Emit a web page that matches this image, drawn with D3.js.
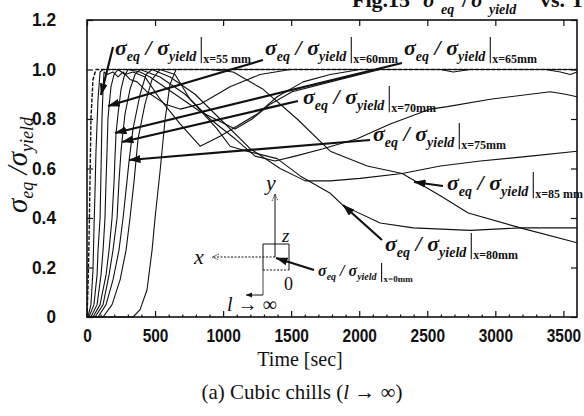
<!DOCTYPE html>
<html>
<head>
<meta charset="utf-8">
<script src="https://cdn.jsdelivr.net/npm/d3@7"></script>
<style>
  html, body { margin: 0; padding: 0; background: #fff; }
  svg { display: block; }
</style>
</head>
<body>
<svg id="chart" width="584" height="416"></svg>
<script>
// ---- axis ticks ----
const xTicks = [0, 500, 1000, 1500, 2000, 2500, 3000, 3500];
const xTickLabels = ["0", "500", "1000", "1500", "2000", "2500", "3000", "3500"];
const yTicks = [0, 0.2, 0.4, 0.6, 0.8, 1.0, 1.2];
const yTickLabels = ["0", "0.2", "0.4", "0.6", "0.8", "1.0", "1.2"];

// ---- σeq/σyield histories at several distances x from the chill ----
const t_x0  = [0, 7, 15, 22, 29, 44, 66, 3600];
const v_x0  = [0, 0.11, 0.31, 0.55, 0.80, 0.96, 1.00, 1.00];

const t_x50 = [0, 7, 29, 44, 51, 59, 66, 81, 96, 118, 2596, 2691, 2816, 3368, 3478, 3551, 3600];
const v_x50 = [0, 0, 0.05, 0.19, 0.35, 0.51, 0.67, 0.88, 0.99, 1.00, 1.00, 0.99, 1.00, 1.00, 0.99, 0.98, 0.99];

const t_x55 = [0, 15, 51, 74, 81, 96, 103, 110, 118, 125, 147, 191, 228, 265, 316, 368, 441, 574, 684, 831, 1051, 1272, 1493, 3600];
const v_x55 = [0, 0, 0.05, 0.17, 0.27, 0.40, 0.59, 0.80, 0.92, 0.99, 0.98, 0.99, 0.97, 0.99, 0.96, 0.95, 0.91, 0.86, 0.84, 0.86, 0.93, 0.98, 1.00, 1.00];

const t_x60 = [0, 29, 74, 103, 118, 132, 140, 147, 154, 162, 176, 199, 228, 279, 338, 426, 537, 684, 831, 978, 1250, 1397, 1588, 1787, 2007, 3600];
const v_x60 = [0, 0, 0.05, 0.17, 0.27, 0.40, 0.55, 0.67, 0.80, 0.85, 0.93, 0.98, 1.00, 0.98, 0.99, 0.97, 0.88, 0.78, 0.69, 0.73, 0.82, 0.89, 0.95, 0.98, 1.00, 1.00];

const t_x65 = [0, 44, 96, 140, 162, 184, 199, 206, 213, 228, 250, 272, 301, 390, 463, 647, 831, 978, 1088, 1213, 1346, 1507, 1860, 2154, 3600];
const v_x65 = [0, 0, 0.05, 0.17, 0.27, 0.40, 0.55, 0.65, 0.74, 0.82, 0.92, 0.97, 1.00, 0.99, 0.97, 0.90, 0.83, 0.79, 0.76, 0.80, 0.86, 0.91, 0.96, 1.00, 1.00];

const t_x70 = [0, 59, 118, 162, 191, 221, 235, 250, 257, 279, 316, 353, 390, 537, 721, 904, 1088, 1235, 1382, 1529, 1735, 1985, 2228, 2522, 2647, 2963, 3404, 3515, 3600];
const v_x70 = [0, 0, 0.05, 0.17, 0.27, 0.40, 0.55, 0.67, 0.71, 0.82, 0.92, 0.98, 1.00, 0.97, 0.90, 0.80, 0.72, 0.65, 0.63, 0.65, 0.68, 0.72, 0.78, 0.84, 0.85, 0.88, 0.91, 0.90, 0.89];

const t_x75 = [0, 81, 140, 191, 235, 265, 294, 309, 338, 390, 434, 478, 610, 794, 978, 1199, 1419, 1603, 1787, 2007, 2316, 2596, 2890, 3257, 3600];
const v_x75 = [0, 0, 0.05, 0.15, 0.27, 0.40, 0.55, 0.63, 0.76, 0.90, 0.98, 1.00, 0.97, 0.90, 0.80, 0.68, 0.60, 0.55, 0.55, 0.56, 0.58, 0.61, 0.63, 0.65, 0.67];

const t_x80 = [0, 118, 184, 243, 287, 316, 346, 375, 426, 478, 537, 647, 757, 956, 1051, 1176, 1397, 1566, 1787, 1882, 2154, 2397, 2816, 3184, 3600];
const v_x80 = [0, 0, 0.05, 0.15, 0.27, 0.40, 0.55, 0.72, 0.86, 0.96, 1.00, 0.98, 0.88, 0.76, 0.69, 0.67, 0.64, 0.57, 0.50, 0.45, 0.38, 0.36, 0.35, 0.36, 0.36];

const t_x85 = [0, 338, 390, 441, 478, 500, 537, 574, 610, 654, 757, 904, 1074, 1294, 1544, 1787, 2059, 2316, 2596, 2801, 3184, 3600];
const v_x85 = [0, 0, 0.03, 0.11, 0.27, 0.40, 0.59, 0.80, 0.94, 1.00, 1.00, 1.00, 0.99, 0.92, 0.80, 0.67, 0.61, 0.58, 0.49, 0.42, 0.36, 0.30];

const seriesNames = ["x=0 mm", "x=50 mm", "x=55 mm", "x=60 mm", "x=65 mm", "x=70 mm", "x=75 mm", "x=80 mm", "x=85 mm"];
const seriesTimes  = [t_x0, t_x50, t_x55, t_x60, t_x65, t_x70, t_x75, t_x80, t_x85];
const seriesValues = [v_x0, v_x50, v_x55, v_x60, v_x65, v_x70, v_x75, v_x80, v_x85];

// ---- layout ----
const plot = { left: 87, right: 577, top: 20, bottom: 317 };
const serif = "'Liberation Serif','Times New Roman',serif";
const sans = "'Liberation Sans',Arial,sans-serif";
const ink = "#111";

const svg = d3.select("#chart");
const x = d3.scaleLinear().domain([0, 3600]).range([plot.left, plot.right]);
const y = d3.scaleLinear().domain([0, 1.2]).range([plot.bottom, plot.top]);

// ---- arrowhead marker ----
svg.append("defs").append("marker")
  .attr("id", "head").attr("markerUnits", "userSpaceOnUse")
  .attr("viewBox", "0 0 12 8").attr("refX", 11.5).attr("refY", 4)
  .attr("markerWidth", 12).attr("markerHeight", 8).attr("orient", "auto")
  .append("path").attr("d", "M0,0 L12,4 L0,8 Z").attr("fill", ink);

// ---- curves ----
const line = d3.line().x(d => x(d[0])).y(d => y(d[1]));
const curves = svg.append("g").attr("fill", "none").attr("stroke", ink);
seriesNames.forEach((name, i) => {
  const pts = seriesTimes[i].map((t, k) => [t, seriesValues[i][k]]);
  curves.append("path")
    .datum(pts)
    .attr("d", line)
    .attr("stroke-width", i === 0 ? 1.4 : 1.1)
    .attr("stroke-dasharray", i === 0 ? "4,1.5" : null)
    .attr("stroke-linejoin", "round");
});

// ---- frame and axes (ticks point inward) ----
svg.append("rect")
  .attr("x", plot.left).attr("y", plot.top)
  .attr("width", plot.right - plot.left).attr("height", plot.bottom - plot.top)
  .attr("fill", "none").attr("stroke", ink).attr("stroke-width", 1.6);

function styleAxis(g) {
  g.select(".domain").remove();
  g.selectAll(".tick line").attr("stroke", ink).attr("stroke-width", 1.2);
}
// narrow, bold tick numerals: squeeze each label to a fixed width per character
function narrowText(g, perChar) {
  g.selectAll("text")
    .attr("font-family", sans).attr("font-weight", "bold")
    .attr("font-size", 18).attr("fill", ink)
    .attr("lengthAdjust", "spacingAndGlyphs")
    .attr("textLength", function () {
      const s = this.textContent;
      return s.replace(".", "").length * perChar + (s.includes(".") ? 5 : 0);
    });
}

const xMinor = d3.range(100, 3600, 100).filter(v => v % 500 !== 0);

svg.append("g").attr("transform", `translate(0,${plot.bottom})`)
  .call(d3.axisBottom(x).tickValues(xTicks).tickSize(-6).tickPadding(12)
    .tickFormat((d, i) => xTickLabels[i]))
  .call(styleAxis)
  .call(g => narrowText(g, 8.6));

svg.append("g").attr("transform", `translate(0,${plot.bottom})`)
  .call(d3.axisBottom(x).tickValues(xMinor).tickSize(-2.5).tickFormat(""))
  .call(styleAxis);

svg.append("g").attr("transform", `translate(0,${plot.top})`)
  .call(d3.axisTop(x).tickValues(xTicks).tickSize(-6).tickFormat(""))
  .call(styleAxis);

svg.append("g").attr("transform", `translate(${plot.left},0)`)
  .call(d3.axisLeft(y).tickValues(yTicks).tickSize(-6).tickPadding(31)
    .tickFormat((d, i) => yTickLabels[i]))
  .call(styleAxis)
  .call(g => narrowText(g, 9.5));

svg.append("g").attr("transform", `translate(${plot.right},0)`)
  .call(d3.axisRight(y).tickValues(yTicks).tickSize(-6).tickFormat(""))
  .call(styleAxis);

// ---- axis titles and caption ----
const yTitle = svg.append("text")
  .attr("transform", "translate(27,165) rotate(-90)")
  .attr("text-anchor", "middle")
  .attr("font-family", serif).attr("font-style", "italic")
  .attr("font-size", 29).attr("fill", ink);
yTitle.append("tspan").text("σ");
yTitle.append("tspan").attr("font-size", 18).attr("dy", 6).text("eq");
yTitle.append("tspan").attr("dy", -6).text(" /σ");
yTitle.append("tspan").attr("font-size", 18).attr("dy", 6).text("yield");

svg.append("text")
  .attr("x", 300).attr("y", 366).attr("text-anchor", "middle")
  .attr("font-family", serif).attr("font-size", 20).attr("fill", ink)
  .text("Time [sec]");

const cap = svg.append("text")
  .attr("x", 302).attr("y", 399).attr("text-anchor", "middle")
  .attr("font-family", serif).attr("font-size", 21).attr("fill", ink);
cap.append("tspan").text("(a) Cubic chills (");
cap.append("tspan").attr("font-style", "italic").text("l");
cap.append("tspan").text(" → ∞)");

// figure heading, running off the top edge of the page
const headParts = [
  { s: "Fig.15", x: 352, dy: 0, size: 22, it: false },
  { s: "σ", x: 423, dy: 0, size: 22, it: true },
  { s: "eq", x: 441, dy: 7, size: 14, it: true },
  { s: "/", x: 462, dy: 0, size: 22, it: false },
  { s: "σ", x: 471, dy: 0, size: 22, it: true },
  { s: "yield", x: 489, dy: 7, size: 14, it: true },
  { s: "vs. T", x: 540, dy: 0, size: 22, it: false }
];
svg.append("g").selectAll("text").data(headParts).join("text")
  .attr("x", d => d.x).attr("y", d => 7 + d.dy)
  .attr("font-family", serif).attr("font-weight", "bold")
  .attr("font-size", d => d.size).attr("font-style", d => d.it ? "italic" : "normal")
  .attr("fill", ink).text(d => d.s);

// ---- curve labels ----
const labels = svg.append("g");
function sigmaLabel(x0, y0, sub, big, small, tiny) {
  const t = labels.append("text")
    .attr("x", x0).attr("y", y0)
    .attr("font-family", serif).attr("font-weight", "bold").attr("font-style", "italic")
    .attr("font-size", big).attr("fill", ink);
  const d = big * 0.28;
  t.append("tspan").text("σ");
  t.append("tspan").attr("font-size", small).attr("dy", d).text("eq");
  t.append("tspan").attr("dy", -d).text(" / σ");
  t.append("tspan").attr("font-size", small).attr("dy", d).text("yield");
  const w = t.node().getComputedTextLength();
  const bx = x0 + w + 5;
  labels.append("line")
    .attr("x1", bx).attr("x2", bx)
    .attr("y1", y0 - big * 0.82).attr("y2", y0 + big * 0.38)
    .attr("stroke", ink).attr("stroke-width", 1.1);
  labels.append("text")
    .attr("x", bx + 2).attr("y", y0 + big * 0.38)
    .attr("font-family", serif).attr("font-weight", "bold")
    .attr("font-size", tiny).attr("fill", ink)
    .text(sub);
}
sigmaLabel(115, 55, "x=55 mm", 22, 14, 12);
sigmaLabel(265, 55, "x=60mm", 22, 14, 12);
sigmaLabel(404, 55, "x=65mm", 22, 14, 12);
sigmaLabel(303, 104, "x=70mm", 22, 14, 12);
sigmaLabel(373, 141, "x=75mm", 22, 14, 12);
sigmaLabel(447, 190, "x=85 mm", 22, 14, 12);
sigmaLabel(385, 251, "x=80mm", 22, 14, 12);
sigmaLabel(318, 276, "x=0mm", 16, 10, 9);

// ---- pointer arrows from labels to curves ----
const pointers = [
  [113, 47, 101, 95],
  [263, 60, 108, 106],
  [402, 63, 115, 133],
  [298, 101, 122, 142],
  [370, 140, 129, 160],
  [443, 186, 414, 182],
  [382, 240, 343, 205],
  [314, 270, 276, 258]
];
svg.append("g").selectAll("line").data(pointers).join("line")
  .attr("x1", d => d[0]).attr("y1", d => d[1])
  .attr("x2", d => d[2]).attr("y2", d => d[3])
  .attr("stroke", ink).attr("stroke-width", 2.2)
  .attr("marker-end", "url(#head)");

// ---- coordinate sketch of the chill ----
const sk = svg.append("g").attr("fill", "none").attr("stroke", ink);
sk.append("line").attr("x1", 275).attr("y1", 257).attr("x2", 275).attr("y2", 194).attr("stroke-width", 1);
sk.append("polyline").attr("points", "272,201 275,194 278,201").attr("stroke-width", 0.8).attr("stroke-dasharray", "1.5,1");
sk.append("line").attr("x1", 275).attr("y1", 257).attr("x2", 212).attr("y2", 257)
  .attr("stroke-width", 1).attr("stroke-dasharray", "2,1.5");
sk.append("polyline").attr("points", "219,254 212,257 219,260").attr("stroke-width", 0.8).attr("stroke-dasharray", "1.5,1");
sk.append("polyline").attr("points", "263,270 263,244 289,244 289,270").attr("stroke-width", 1);
sk.append("line").attr("x1", 263).attr("y1", 270).attr("x2", 289).attr("y2", 270)
  .attr("stroke-width", 1).attr("stroke-dasharray", "2,1.5");
sk.append("line").attr("x1", 263).attr("y1", 270).attr("x2", 263).attr("y2", 295).attr("stroke-width", 0.8);
sk.append("line").attr("x1", 263).attr("y1", 295).attr("x2", 246).attr("y2", 295).attr("stroke-width", 1);
sk.append("path").attr("d", "M246,295 L252,292.5 L252,297.5 Z").attr("fill", ink).attr("stroke", "none");

const skText = (tx, ty, s, size, italic) => svg.append("text")
  .attr("x", tx).attr("y", ty).attr("font-family", serif)
  .attr("font-size", size).attr("font-style", italic ? "italic" : "normal")
  .attr("fill", ink).text(s);
skText(266, 190, "y", 22, true);
skText(282, 242, "z", 19, true);
skText(194, 264, "x", 22, true);
skText(284, 290, "0", 18, false);
const lt = svg.append("text").attr("x", 227).attr("y", 311)
  .attr("font-family", serif).attr("font-size", 20).attr("fill", ink);
lt.append("tspan").attr("font-style", "italic").text("l");
lt.append("tspan").text(" → ∞");
</script>
</body>
</html>
